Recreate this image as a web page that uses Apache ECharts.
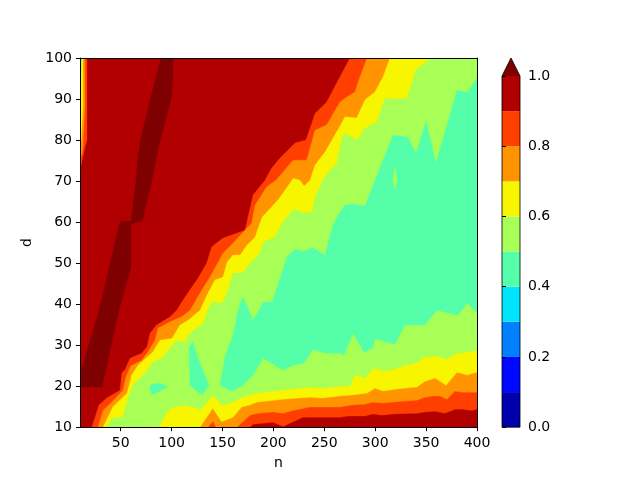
<!DOCTYPE html>
<html><head><meta charset="utf-8">
<script src="https://cdn.jsdelivr.net/npm/echarts@6/dist/echarts.min.js"></script>
<style>html,body{margin:0;padding:0;background:#fff}#c{width:640px;height:480px}</style>
</head><body><div id="c"></div>
<script>
// Tick labels
const nTicks = [50,100,150,200,250,300,350,400];
const dTicks = [10,20,30,40,50,60,70,80,90,100];
const barTicks = [0,0.2,0.4,0.6,0.8,1.0];
const barLevels = [0,0.1,0.2,0.3,0.4,0.5,0.6,0.7,0.8,0.9,1.0];
const barColors = ['#0000ad','#0008ff','#0080ff','#00e4fc','#55ffa9','#a8ff55','#f8f500','#ff9400','#ff3f00','#b20000'];
const overColor = '#7f0000';

// Contours on the high-d side (n, d)
const upper90 = [[21.5,10],[28.7,15.4],[36.2,17.1],[49.3,19],[51,23.2],[54.2,24],[59.1,26.8],[70.6,28],[75.8,29.6],[78.8,32.9],[85.3,34.9],[98.4,36.9],[105,38.5],[111.2,41],[125.9,46.3],[134.5,50],[139.4,54],[150.5,56.1],[172.1,58],[180,66.6],[191.7,70.2],[198.3,73.2],[206.5,75.6],[221.2,79.3],[232,80],[237.6,84.1],[240.9,86.5],[252.4,89.3],[265.4,95.4],[275.2,100]];
const upper80 = [[27.7,10],[32.6,14.1],[41.1,16.1],[52.2,19],[55.2,22.3],[59.8,24.9],[70.6,26.3],[76.8,28.4],[83.7,31.2],[86.6,34.1],[98.4,35.7],[109.9,36.9],[118.1,38.5],[127.9,42.7],[137.7,46.6],[150.5,52.4],[160.3,54.9],[178.7,59.8],[181.9,64.1],[193.4,68.6],[202.5,70.2],[219.3,75.1],[232.7,75.1],[240.9,82.4],[252.4,83.7],[265.4,89.3],[270.3,90.2],[280.2,91.8],[285,95.4],[292,100]];
const upper70 = [[32.6,10],[37.5,12.5],[42.4,15],[56.2,18.3],[60.8,22.7],[67,25.1],[81.7,28.4],[88.6,31.2],[100.4,31.7],[108.2,34.9],[116.1,36.1],[127.9,38.5],[135.7,42.7],[142.6,45.9],[150.5,46.6],[154.4,50.2],[160.3,52],[167.2,52],[174.1,54.4],[181.9,56.3],[188.8,61.2],[204.5,65.4],[216.3,69.5],[219.3,70.7],[226.1,70.2],[230.1,68.8],[236,70.2],[240.9,73.9],[250.7,77.1],[265.4,83.4],[270.3,85.7],[281.8,85.4],[290,89.8],[299.8,91.8],[307.7,95.4],[314.5,100]];
const upper60 = [[36.5,10],[41.4,12.2],[52.2,12.4],[57.2,17.1],[62.1,20.2],[73.9,23.2],[81.7,25.9],[90.6,26.8],[98.4,29.3],[105.3,31.2],[113.2,30.7],[116.1,32.4],[125.9,34.4],[130.8,34.9],[135.7,38.5],[139.7,40.5],[149.5,40.2],[154.4,42.7],[160.3,47.6],[170.1,47.6],[177,50],[186.8,52.4],[189.8,55.1],[201.6,56.3],[209.4,60],[220.2,63.2],[229.1,62.2],[237.9,62.4],[240.9,66.1],[248.7,70.2],[253.6,72],[262.5,74.4],[265.4,78.3],[269.3,81.7],[282.1,80],[290,82.9],[301.8,84.4],[309.6,90.2],[321.4,90],[331.2,90.2],[340.1,97.1],[354.8,100]];

// Contours on the low-d side (n, d)
const lower90 = [[177,10],[180,10.7],[199.6,11.2],[209.4,10.2],[229.1,12.4],[265.4,12.4],[273.3,12.7],[290,12.7],[297.8,13.2],[306.7,12.9],[317.5,13.2],[341.1,13.4],[348.9,13.7],[358.8,13.9],[368.6,13.4],[378.4,14.4],[385.3,14.4],[395.1,14.1],[400,14.4]];
const lower80 = [[135.7,10],[140.7,11.5],[143.6,10],[164.2,10],[177,12.9],[184.9,13.4],[199.6,13.7],[209.4,13.4],[219.3,14.1],[236,14.9],[265.4,14.9],[277.2,15.4],[290,15.6],[297.8,16.1],[306.7,15.9],[327.3,16.3],[341.1,16.6],[348.9,17.3],[356.8,17.6],[363.7,17.6],[370.5,16.8],[378.4,18.8],[385.3,18.5],[400,18.5]];
const lower70 = [[127.9,10],[140.4,14.6],[149.2,11.3],[160.3,12.4],[168.9,14.9],[177,15.4],[183.6,16.1],[209.4,16.8],[236,17.3],[248.7,17.1],[265.4,17.6],[275.2,17.8],[291.9,18.3],[299.8,19.5],[307.7,18.8],[321.4,19.3],[341.1,19.8],[348.9,21.2],[358.8,22],[369.6,20.2],[380.4,23.4],[390.2,22.7],[400,23.4]];
const lower60 = [[86.6,10],[98.4,14.6],[113.2,15.4],[125.9,14.6],[127.9,14.1],[140.4,17.8],[149.2,15.4],[157.4,15.9],[168.9,17.3],[181.9,18.3],[206.5,19],[236,19.8],[248.7,19.5],[265.4,20],[275.2,20],[280.2,22.7],[290,22],[297.8,24.4],[309.6,23.7],[317.5,24.1],[329.3,25.1],[339.1,25.6],[348.9,27.1],[360.7,27.3],[370.5,26.6],[380.4,28],[391.2,28.3],[400,28.8]];

// Narrow strips at the left edge (n, d)
const strip90 = [[10,72.7],[12.9,75.9],[14.9,78.3],[16.9,80],[16.9,86.8],[16.9,100],[10,100]];
const strip80 = [[10,75.6],[12,76.8],[12.9,78.8],[13.9,83.2],[14.9,88.5],[14.9,100],[10,100]];
const strip70 = [[10,78.8],[11,80],[12,83.7],[12.9,88.5],[12.9,100],[10,100]];
const strip60 = [[10,91],[11,93.4],[12,100],[10,100]];

// Closed regions (n, d)
const main50 = [[147.5,20.2],[152.4,27.1],[160.3,32.4],[165.2,38.5],[170.1,41.7],[176,38.5],[180,36.1],[185.8,38.5],[189.8,40.5],[198.6,40.5],[203.5,44.1],[213.4,51.5],[221.2,53.4],[229.1,52.9],[238.9,53.7],[250.7,52],[258.5,59.3],[265.4,62.4],[270.3,64.1],[278.2,64.4],[290,63.9],[299.8,70.2],[317.5,81.2],[332.2,80.7],[340.1,76.8],[349.9,84.6],[359.7,74.4],[380.4,92.2],[390.2,91.5],[400,95.1],[400,38],[390.2,40.2],[381.3,37.3],[373.5,37.8],[360.7,38.5],[348.9,34.9],[329.3,34.9],[319.5,30.2],[307.7,31],[299.8,31.5],[297.8,29.3],[289,28.3],[278.2,32.9],[269.3,27.6],[265.4,28],[250.7,28],[238.9,29],[230.1,25.6],[219.3,25.1],[209.4,23.9],[189.8,26.8],[180,22.7],[170.1,20.2],[159.3,18.8]];
const islandA50 = [[121,30.7],[117.1,29.5],[118.1,20.2],[129.9,17.8],[136.7,20.2],[125.9,26.8]];
const islandB50 = [[79.7,20.5],[78.8,19.5],[80.7,17.8],[96.4,19.8],[88.6,20.7]];
const island60 = [[317.5,70.2],[319.5,73.4],[321.4,70.2],[319.5,67.8]];
const ridgeUpper = [[89.6,100],[101.4,100],[101.4,95.4],[99.4,89.8],[87.6,78.8],[80.7,70.2],[70.9,60],[65,60],[60.1,59.3],[60.1,60],[65,70.2],[66.9,76.3],[69.9,80.5],[78.8,89.8]];
const ridgeLower = [[49.3,60.2],[60.1,60.2],[60.1,49],[48.3,38.5],[31.6,19.8],[10,19.8],[10,22.7],[28.7,38.5]];
const plotCorners = [[10,10],[400,10],[400,100],[10,100]];

const FONT = 'DejaVu Sans';
const col = v => barColors[Math.round(v*10)];
const openTop = (up, low) => up.concat([[400,100]], low.slice().reverse());

const layers = [
  [plotCorners, col(0.9)],
  [ridgeUpper, overColor],
  [ridgeLower, overColor],
  [strip90, col(0.8)],
  [openTop(upper90, lower90), col(0.8)],
  [strip80, col(0.7)],
  [openTop(upper80, lower80), col(0.7)],
  [strip70, col(0.6)],
  [openTop(upper70, lower70), col(0.6)],
  [strip60, col(0.5)],
  [openTop(upper60, lower60), col(0.5)],
  [main50, col(0.4)],
  [islandA50, col(0.4)],
  [islandB50, col(0.4)],
  [island60, col(0.5)]
];

const series = layers.map(([pts, color], i) => ({
  type: 'custom', xAxisIndex: 0, yAxisIndex: 0, clip: true, z: 2 + i * 0.01,
  silent: true, animation: false,
  data: pts, encode: {x: 0, y: 1},
  renderItem(params, api) {
    if (params.dataIndex !== 0) return null;
    return {type: 'polygon', shape: {points: pts.map(p => api.coord(p))},
      style: {fill: color, stroke: color, lineWidth: 0.3}};
  }
}));

// Colour bar cells, drawn on the bar's own 0..1 axis
const barCells = barColors.map((c, i) => [barLevels[i], barLevels[i + 1], c]);
series.push({
  type: 'custom', xAxisIndex: 2, yAxisIndex: 2, clip: false, silent: true, animation: false,
  data: barCells.map(c => [c[0], c[1]]), encode: {y: [0, 1]},
  renderItem(params, api) {
    const c = barCells[params.dataIndex];
    const a = api.coord([0, c[0]]), b = api.coord([1, c[1]]);
    return {type: 'rect', shape: {x: a[0], y: b[1], width: b[0] - a[0], height: a[1] - b[1]}, style: {fill: c[2]}};
  }
});
const overTip = [[0,1],[1,1],[0.5,1.0513]];
const barOutline = [[0,0],[1,0],[1,1],[0.5,1.0513],[0,1]];
series.push({
  type: 'custom', xAxisIndex: 2, yAxisIndex: 2, clip: false, silent: true, animation: false, z: 3,
  data: [[0,1]], encode: {y: 1},
  renderItem(params, api) {
    return {type: 'group', children: [
      {type: 'polygon', shape: {points: overTip.map(p => api.coord(p))}, style: {fill: overColor}},
      {type: 'polygon', shape: {points: barOutline.map(p => api.coord(p))}, style: {fill: 'none', stroke: '#000', lineWidth: 0.8}}
    ]};
  }
});

const spine = {lineStyle: {color: '#000', width: 1}, onZero: false, show: true};
const tick = {show: true, length: 4, lineStyle: {color: '#000', width: 1}};
const label = {color: '#000', fontFamily: FONT, fontSize: 14};

const chart = echarts.init(document.getElementById('c'), null, {renderer: 'canvas'});
chart.setOption({
  animation: false,
  backgroundColor: '#fff',
  grid: [
    {left: 80, top: 58, width: 397, height: 369.2},
    {left: 80, top: 58, width: 397, height: 369.2, z: 10},
    {left: 502, top: 76, width: 18, height: 351.2}
  ],
  xAxis: [
    {type: 'value', gridIndex: 0, min: 10, max: 400, name: 'n', nameLocation: 'middle', nameGap: 29,
     nameTextStyle: {color: '#000', fontFamily: FONT, fontSize: 14}, splitLine: {show: false}, axisLine: spine,
     axisTick: Object.assign({customValues: nTicks}, tick),
     axisLabel: Object.assign({customValues: nTicks, margin: 9, showMinLabel: true, hideOverlap: false}, label), z: 10},
    {type: 'value', gridIndex: 1, min: 10, max: 400, position: 'top', splitLine: {show: false}, axisLine: spine,
     axisTick: {show: false}, axisLabel: {show: false}, z: 10},
    {type: 'value', gridIndex: 2, min: 0, max: 1, show: false}
  ],
  yAxis: [
    {type: 'value', gridIndex: 0, min: 10, max: 100, interval: 10, name: 'd', nameLocation: 'middle', nameGap: 40,
     nameTextStyle: {color: '#000', fontFamily: FONT, fontSize: 14}, splitLine: {show: false}, axisLine: spine,
     axisTick: tick, axisLabel: Object.assign({margin: 8, padding: [2,0,0,0], customValues: dTicks}, label), z: 10},
    {type: 'value', gridIndex: 1, min: 10, max: 100, position: 'right', splitLine: {show: false}, axisLine: spine,
     axisTick: {show: false}, axisLabel: {show: false}, z: 10},
    {type: 'value', gridIndex: 2, min: 0, max: 1, interval: 0.2, position: 'right', splitLine: {show: false},
     axisLine: {show: false}, axisTick: tick,
     axisLabel: Object.assign({margin: 8, padding: [2,0,0,0], formatter: v => v.toFixed(1)}, label), z: 10}
  ],
  series
});
</script></body></html>
